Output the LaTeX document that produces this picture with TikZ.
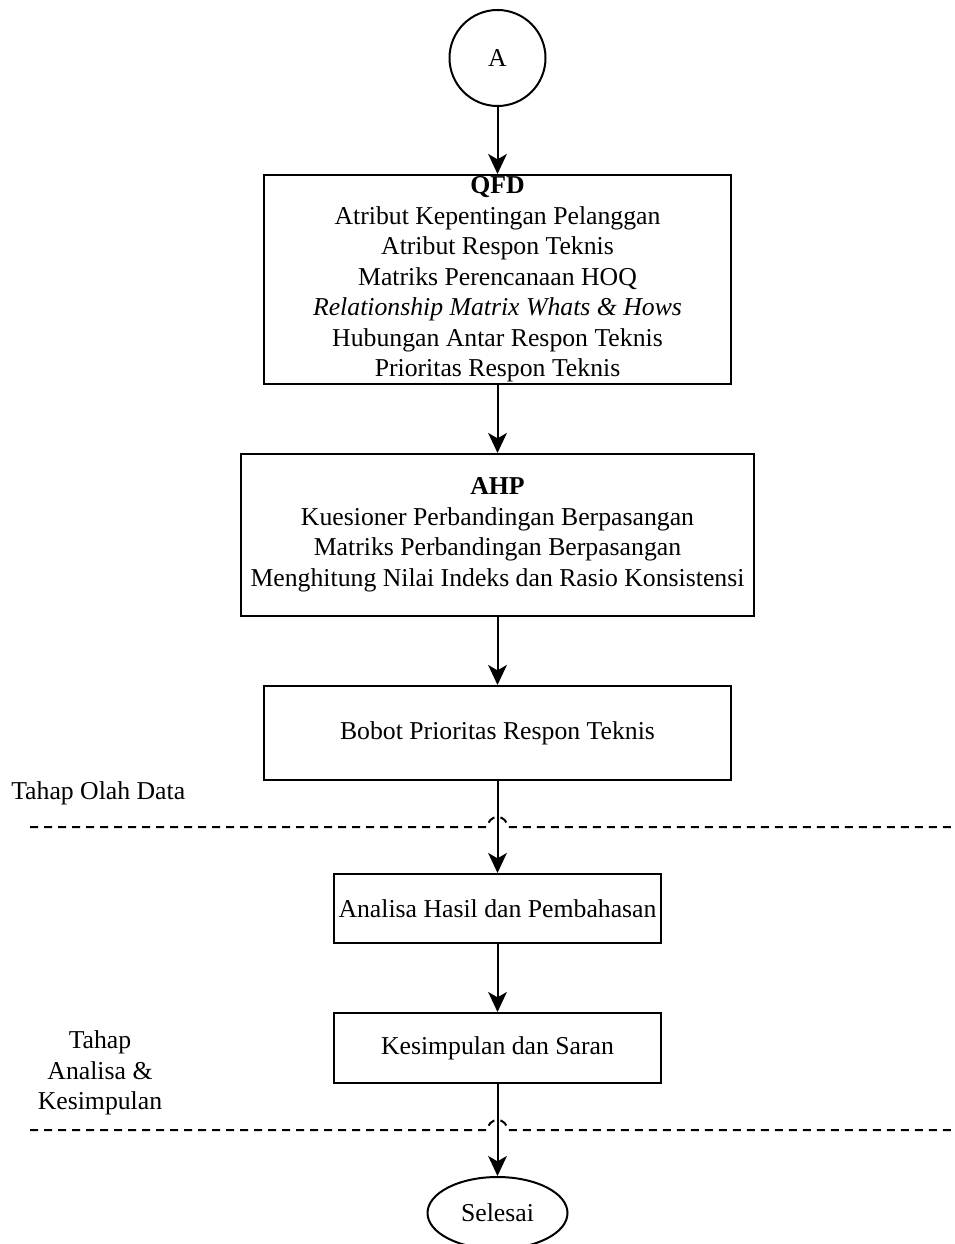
\documentclass[tikz,border=0pt]{standalone}
\usepackage{fontspec}
\setmainfont{Liberation Serif}
\usepackage{tikz}
\usetikzlibrary{arrows.meta, positioning, shapes.geometric}
\definecolor{ink}{HTML}{000000}
\tikzset{
  box/.style={rectangle, draw=ink, line width=1.5pt, align=center,
              inner sep=0pt, font=\fontsize{19.3}{22.9}\selectfont},
  connector/.style={circle, draw=ink, line width=1.5pt, minimum size=72pt,
                    inner sep=0pt, font=\fontsize{19.3}{22.9}\selectfont},
  terminal/.style={ellipse, draw=ink, line width=1.5pt,
                   minimum width=105pt, minimum height=54pt, inner sep=0pt,
                   font=\fontsize{19.3}{22.9}\selectfont},
  arrow/.style={-{Stealth[length=15pt, width=14pt, inset=4pt]}, line width=1.5pt, draw=ink},
  separator/.style={dashed, dash pattern=on 6pt off 4.5pt, line width=1.5pt, draw=ink},
  stage/.style={font=\fontsize{19.3}{22.9}\selectfont, align=center, inner sep=0pt},
}

\begin{document}
\begin{tikzpicture}[x=0.75pt, y=-0.75pt]

  \useasboundingbox (0,0) rectangle (954,1244);

  %% Start connector
  \node[connector] (a) at (497.5,58) {A};

  %% QFD block
  \node[box, minimum width=350.25pt, minimum height=156.75pt] (qfd) at (497.5,279.5)
    {\textbf{QFD}\\
     Atribut Kepentingan Pelanggan\\
     Atribut Respon Teknis\\
     Matriks Perencanaan HOQ\\
     \textit{Relationship Matrix Whats \& Hows}\\
     Hubungan Antar Respon Teknis\\
     Prioritas Respon Teknis};

  %% AHP block
  \node[box, minimum width=384.75pt, minimum height=121.5pt] (ahp) at (497.5,535)
    {\textbf{AHP}\\
     Kuesioner Perbandingan Berpasangan\\
     Matriks Perbandingan Berpasangan\\
     Menghitung Nilai Indeks dan Rasio Konsistensi};

  \node[box, minimum width=350.25pt, minimum height=70.5pt] (bobot) at (497.5,733)
    {Bobot Prioritas Respon Teknis};

  %% --- Analysis stage ---
  \node[box, minimum width=245.25pt, minimum height=51.75pt] (analisa) at (497.5,908.5)
    {Analisa Hasil dan Pembahasan};
  \node[box, minimum width=245.25pt, minimum height=52.5pt] (kesimpulan) at (497.5,1048)
    {Kesimpulan dan Saran};

  %% End
  \node[terminal] (selesai) at (497.5,1213) {Selesai};

  %% Stage labels
  \node[stage, anchor=west] (olah) at (11,793) {Tahap Olah Data};
  \node[stage] (analisatahap) at (100,1073) {Tahap\\Analisa \&\\Kesimpulan};

  %% Arrows
  \draw[arrow] (a) -- (qfd);
  \draw[arrow] (qfd) -- (ahp);
  \draw[arrow] (ahp) -- (bobot);
  \draw[arrow] (bobot) -- (analisa);
  \draw[arrow] (analisa) -- (kesimpulan);
  \draw[arrow] (kesimpulan) -- (selesai);

  %% Stage borders (with line jumps)
  \foreach \y in {827,1130}{
    \draw[separator] (30,\y) -- (487.5,\y)
      arc[start angle=180, end angle=0, radius=7.5pt] -- (954,\y);
  }

\end{tikzpicture}
\end{document}
